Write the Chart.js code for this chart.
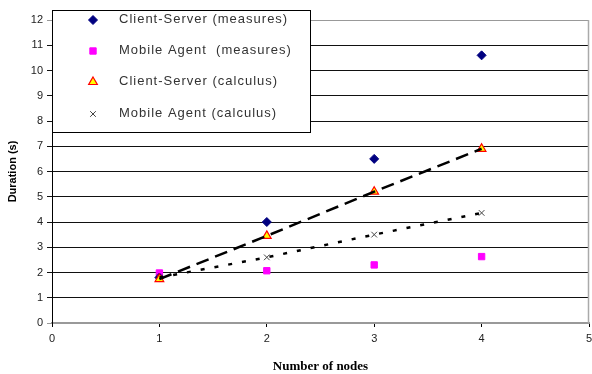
<!DOCTYPE html>
<html><head><meta charset="utf-8">
<script src="https://cdn.jsdelivr.net/npm/chart.js@4/dist/chart.umd.min.js"></script>
<style>html,body{margin:0;padding:0;background:#fff}</style>
</head><body>
<canvas id="c" width="592" height="374"></canvas>
<script>
const nodes = [1, 2, 3, 4];
const csMeasures = [1.8, 4.0, 6.5, 10.6];
const maMeasures = [1.98, 2.07, 2.3, 2.63];
const csCalculus = [1.74, 3.45, 5.2, 6.9];
const maCalculus = [1.8, 2.6, 3.5, 4.36];
const seriesLabels = ['Client-Server (measures)', 'Mobile Agent  (measures)', 'Client-Server (calculus)', 'Mobile Agent (calculus)'];
const xTicks = [0, 1, 2, 3, 4, 5];
const yTicks = [0,1,2,3,4,5,6,7,8,9,10,11,12];

const pts = arr => nodes.map((n, i) => ({x: n, y: arr[i]}));
const FONT = 'Liberation Sans, Arial, sans-serif';

const legendPlugin = {
  id: 'boxLegend',
  afterDraw(chart) {
    const ctx = chart.ctx;
    ctx.save();
    ctx.fillStyle = '#fff';
    ctx.strokeStyle = '#000';
    ctx.lineWidth = 1;
    ctx.fillRect(52.5, 10.5, 258, 122);
    ctx.strokeRect(52.5, 10.5, 258, 122);
    const rows = [20, 51, 82, 114];
    for (let i = 0; i < 4; i++) {
      const ds = chart.data.datasets[i];
      ctx.fillStyle = ds.pointBackgroundColor;
      ctx.strokeStyle = ds.pointBorderColor;
      ctx.lineWidth = ds.pointBorderWidth;
      Chart.helpers.drawPoint(ctx, {pointStyle: ds.pointStyle, radius: ds.pointRadius, rotation: 0, borderWidth: ds.pointBorderWidth}, 93, rows[i]);
      ctx.fillStyle = '#333';
      ctx.font = '13px ' + FONT;
      try { ctx.letterSpacing = '1px'; } catch (e) {}
      ctx.textBaseline = 'middle';
      ctx.textAlign = 'left';
      ctx.fillText(ds.label, 119, rows[i] - 1);
      try { ctx.letterSpacing = '0px'; } catch (e) {}
    }
    ctx.restore();
  }
};

const borderPlugin = {
  id: 'rightBorder',
  afterDatasetsDraw(chart) {
    const a = chart.chartArea, ctx = chart.ctx;
    ctx.save();
    ctx.strokeStyle = '#aaa';
    ctx.lineWidth = 1.5;
    ctx.beginPath();
    ctx.moveTo(Math.round(a.right) - 0.5, a.top);
    ctx.lineTo(Math.round(a.right) - 0.5, a.bottom);
    ctx.stroke();
    ctx.restore();
  }
};

new Chart(document.getElementById('c'), {
  type: 'scatter',
  data: {
    datasets: [
      {label: seriesLabels[0], data: pts(csMeasures), pointStyle: 'rectRot', pointRadius: 4.5, pointBackgroundColor: '#000080', pointBorderColor: '#000080', pointBorderWidth: 1, order: 3},
      {label: seriesLabels[1], data: pts(maMeasures), pointStyle: 'rect', pointRadius: 4.5, pointBackgroundColor: '#ff00ff', pointBorderColor: '#ff00ff', pointBorderWidth: 1, order: 4},
      {label: seriesLabels[2], data: pts(csCalculus), pointStyle: 'triangle', pointRadius: 5, pointBackgroundColor: '#ffff00', pointBorderColor: '#ff0000', pointBorderWidth: 1.2, order: 2},
      {label: seriesLabels[3], data: pts(maCalculus), pointStyle: 'crossRot', pointRadius: 4, pointBackgroundColor: '#444', pointBorderColor: '#444', pointBorderWidth: 1, order: 2},
      {label: 'trendCS', data: pts(csCalculus), showLine: true, pointRadius: 0, borderColor: '#000', borderWidth: 2.5, borderDash: [13, 7], order: 0},
      {label: 'trendMA', data: pts(maCalculus), showLine: true, pointRadius: 0, borderColor: '#000', borderWidth: 2.5, borderDash: [4, 10], order: 0}
    ]
  },
  options: {
    responsive: false,
    animation: false,
    layout: {autoPadding: false, padding: {top: 20, right: 3, left: 0, bottom: 0}},
    plugins: {legend: {display: false}, tooltip: {enabled: false}},
    scales: {
      x: {
        type: 'linear', min: 0, max: 5,
        afterBuildTicks: s => { s.ticks = xTicks.map(v => ({value: v})); },
        afterFit: s => { s.height = 51; s.paddingRight = 0; s.paddingLeft = 0; },
        ticks: {font: {family: FONT, size: 11}, color: '#222', padding: 5},
        grid: {drawOnChartArea: false, drawTicks: true, tickLength: 4, color: '#000'},
        border: {color: '#999', width: 1.5},
        title: {display: true, text: 'Number of nodes', font: {family: 'Liberation Serif, Times New Roman, serif', size: 13, weight: 'bold'}, color: '#000', padding: {top: 3, bottom: 0}}
      },
      y: {
        min: 0, max: 12,
        afterBuildTicks: s => { s.ticks = yTicks.map(v => ({value: v})); },
        afterFit: s => { s.width = 52; },
        ticks: {font: {family: FONT, size: 11}, color: '#222', padding: 4},
        grid: {color: c => (c.tick && (c.tick.value === 0 || c.tick.value === 12)) ? '#999' : '#111', tickLength: 5, lineWidth: 1},
        border: {color: '#000', width: 1},
        title: {display: true, text: 'Duration (s)', font: {family: FONT, size: 11, weight: 'bold'}, color: '#000', padding: {top: 6, bottom: 0}}
      }
    }
  },
  plugins: [legendPlugin, borderPlugin]
});
</script>
</body></html>
